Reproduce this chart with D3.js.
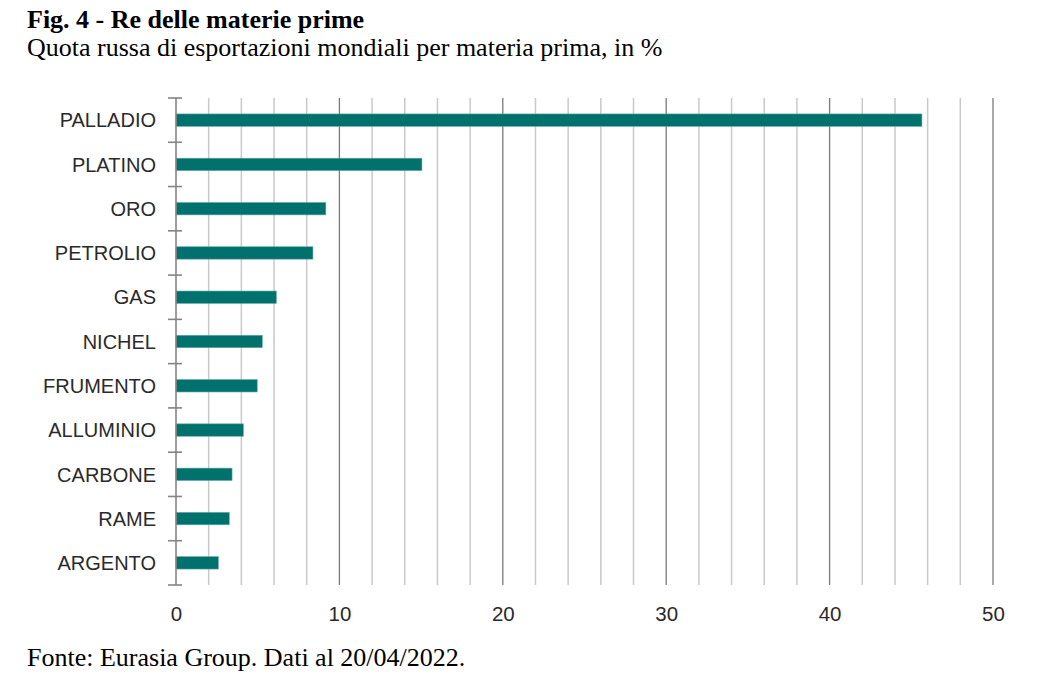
<!DOCTYPE html>
<html>
<head>
<meta charset="utf-8">
<script src="https://cdn.jsdelivr.net/npm/d3@7"></script>
<style>
  body { margin: 0; background: #fff; }
  .title { font-family: 'Liberation Serif', 'Times New Roman', serif; fill: #000; }
  .axisText { font-family: 'Liberation Sans', Arial, sans-serif; fill: #2a2a2a; }
</style>
</head>
<body>
<div id="chart"></div>
<script>
// data
const categories = ['PALLADIO', 'PLATINO', 'ORO', 'PETROLIO', 'GAS', 'NICHEL',
                    'FRUMENTO', 'ALLUMINIO', 'CARBONE', 'RAME', 'ARGENTO'];
const shares = [45.65, 15.05, 9.17, 8.38, 6.14, 5.28, 4.97, 4.12, 3.43, 3.26, 2.59];
const xTicks = [0, 10, 20, 30, 40, 50];
const gridValues = d3.range(2, 51, 2);

// constants
const FRAME_WIDTH = 1054;
const FRAME_HEIGHT = 684;
const PLOT = {left: 176, right: 993, top: 98, bottom: 585};
const BAR_COLOR = '#00716d';

let svg = d3.select('#chart')
            .append('svg')
            .attr('width', FRAME_WIDTH)
            .attr('height', FRAME_HEIGHT);

// scales
const xScale = d3.scaleLinear()
                 .domain([0, 50])
                 .range([PLOT.left, PLOT.right]);

const yScale = d3.scaleBand()
                 .domain(categories)
                 .range([PLOT.top, PLOT.bottom])
                 .padding(0);

// titles
svg.append('text')
   .attr('class', 'title')
   .attr('x', 27).attr('y', 28)
   .attr('font-size', '26px')
   .attr('font-weight', 'bold')
   .text('Fig. 4 - Re delle materie prime');

svg.append('text')
   .attr('class', 'title')
   .attr('x', 27).attr('y', 56)
   .attr('font-size', '26px')
   .text('Quota russa di esportazioni mondiali per materia prima, in %');

svg.append('text')
   .attr('class', 'title')
   .attr('x', 27).attr('y', 666)
   .attr('font-size', '26px')
   .text('Fonte: Eurasia Group. Dati al 20/04/2022.');

// vertical grid lines, darker every 10
svg.append('g')
   .selectAll('line')
   .data(gridValues)
   .enter()
   .append('line')
   .attr('x1', d => xScale(d))
   .attr('x2', d => xScale(d))
   .attr('y1', PLOT.top)
   .attr('y2', PLOT.bottom)
   .attr('stroke', d => d % 10 === 0 ? '#7a7a7a' : '#c9c9c9')
   .attr('stroke-width', d => d % 10 === 0 ? 1.3 : 1.5);

// bars
const barH = yScale.bandwidth() * 0.28;
svg.append('g')
   .selectAll('rect')
   .data(categories)
   .enter()
   .append('rect')
   .attr('x', xScale(0))
   .attr('y', d => yScale(d) + (yScale.bandwidth() - barH) / 2)
   .attr('width', (d, i) => xScale(shares[i]) - xScale(0))
   .attr('height', barH)
   .attr('fill', BAR_COLOR)
   .attr('stroke', '#5fa8a4')
   .attr('stroke-width', 0.6);

// y axis line and boundary ticks
svg.append('line')
   .attr('x1', xScale(0)).attr('x2', xScale(0))
   .attr('y1', PLOT.top).attr('y2', PLOT.bottom)
   .attr('stroke', '#858585')
   .attr('stroke-width', 1.6);

const boundaries = categories.map(d => yScale(d)).concat([PLOT.bottom]);
svg.append('g')
   .selectAll('line')
   .data(boundaries)
   .enter()
   .append('line')
   .attr('x1', xScale(0) - 8)
   .attr('x2', xScale(0) + 6)
   .attr('y1', d => d)
   .attr('y2', d => d)
   .attr('stroke', '#858585')
   .attr('stroke-width', 1.6);

// category labels
let yAxis = svg.append('g')
   .attr('transform', 'translate(' + xScale(0) + ',0)')
   .call(d3.axisLeft(yScale).tickSize(0).tickPadding(20));
yAxis.select('.domain').remove();
yAxis.selectAll('text')
     .attr('class', 'axisText')
     .attr('font-size', '20px')
     .attr('dy', '0.36em');

// x axis labels
let xAxis = svg.append('g')
   .attr('transform', 'translate(0,' + PLOT.bottom + ')')
   .call(d3.axisBottom(xScale).tickValues(xTicks).tickSize(0).tickPadding(21));
xAxis.select('.domain').remove();
xAxis.selectAll('text')
     .attr('class', 'axisText')
     .attr('font-size', '20.5px');
</script>
</body>
</html>
